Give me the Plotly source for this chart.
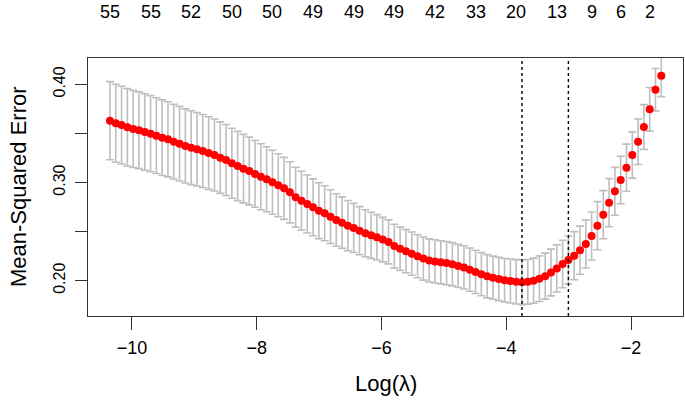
import plotly.graph_objects as go

log_lambda = [-10.353, -10.260, -10.167, -10.074, -9.981, -9.888, -9.795, -9.702, -9.609, -9.516,
              -9.423, -9.330, -9.237, -9.144, -9.051, -8.958, -8.865, -8.771, -8.678, -8.585,
              -8.492, -8.399, -8.306, -8.213, -8.120, -8.027, -7.934, -7.841, -7.748, -7.655,
              -7.562, -7.469, -7.376, -7.283, -7.190, -7.097, -7.004, -6.911, -6.818, -6.725,
              -6.632, -6.539, -6.446, -6.353, -6.260, -6.167, -6.074, -5.981, -5.888, -5.795,
              -5.702, -5.608, -5.515, -5.422, -5.329, -5.236, -5.143, -5.050, -4.957, -4.864,
              -4.771, -4.678, -4.585, -4.492, -4.399, -4.306, -4.213, -4.120, -4.027, -3.934,
              -3.841, -3.748, -3.655, -3.562, -3.469, -3.376, -3.283, -3.190, -3.097, -3.004,
              -2.911, -2.818, -2.725, -2.632, -2.539, -2.445, -2.352, -2.259, -2.166, -2.073,
              -1.980, -1.887, -1.794, -1.701, -1.608, -1.515]

mse = [0.3629, 0.3603, 0.3585, 0.3562, 0.3545, 0.3532, 0.3514, 0.3497, 0.3477, 0.3456,
       0.3440, 0.3416, 0.3395, 0.3372, 0.3354, 0.3338, 0.3321, 0.3300, 0.3280, 0.3253,
       0.3229, 0.3196, 0.3168, 0.3141, 0.3117, 0.3087, 0.3059, 0.3033, 0.3002, 0.2972,
       0.2940, 0.2900, 0.2850, 0.2815, 0.2781, 0.2747, 0.2713, 0.2686, 0.2652, 0.2618,
       0.2591, 0.2560, 0.2537, 0.2509, 0.2483, 0.2462, 0.2442, 0.2418, 0.2395, 0.2352,
       0.2325, 0.2300, 0.2275, 0.2249, 0.2225, 0.2206, 0.2196, 0.2187, 0.2179, 0.2167,
       0.2150, 0.2135, 0.2112, 0.2089, 0.2066, 0.2045, 0.2030, 0.2017, 0.2004, 0.1996,
       0.1988, 0.1984, 0.1988, 0.2000, 0.2020, 0.2046, 0.2083, 0.2124, 0.2170, 0.2211,
       0.2254, 0.2310, 0.2374, 0.2455, 0.2560, 0.2672, 0.2794, 0.2910, 0.3025, 0.3151,
       0.3280, 0.3415, 0.3565, 0.3745, 0.3945, 0.4088]

mse_se = [0.0398, 0.0397, 0.0396, 0.0394, 0.0393, 0.0391, 0.0390, 0.0388, 0.0386, 0.0385,
          0.0383, 0.0381, 0.0380, 0.0378, 0.0376, 0.0374, 0.0372, 0.0370, 0.0367, 0.0364,
          0.0361, 0.0357, 0.0353, 0.0349, 0.0345, 0.0340, 0.0336, 0.0331, 0.0326, 0.0321,
          0.0316, 0.0311, 0.0305, 0.0300, 0.0295, 0.0290, 0.0285, 0.0280, 0.0274, 0.0268,
          0.0262, 0.0256, 0.0250, 0.0245, 0.0240, 0.0235, 0.0231, 0.0227, 0.0224, 0.0222,
          0.0220, 0.0220, 0.0220, 0.0220, 0.0220, 0.0220, 0.0220, 0.0220, 0.0220, 0.0220,
          0.0220, 0.0220, 0.0220, 0.0220, 0.0220, 0.0220, 0.0220, 0.0220, 0.0222, 0.0224,
          0.0226, 0.0228, 0.0228, 0.0230, 0.0232, 0.0234, 0.0238, 0.0240, 0.0242, 0.0244,
          0.0245, 0.0245, 0.0245, 0.0245, 0.0245, 0.0245, 0.0245, 0.0244, 0.0242, 0.0240,
          0.0236, 0.0232, 0.0228, 0.0222, 0.0216, 0.0213]

lambda_min = -3.748
lambda_1se = -3.004

nz_x = [-10.353, -9.702, -9.051, -8.399, -7.748, -7.097, -6.446, -5.795, -5.143, -4.492,
        -3.841, -3.190, -2.632, -2.166, -1.701]
nz_labels = ["55", "55", "52", "50", "50", "49", "49", "49", "42", "33", "20", "13", "9", "6", "2"]

x_ticks = [-10, -8, -6, -4, -2]
y_ticks = [0.20, 0.25, 0.30, 0.35, 0.40]
y_tick_text = ["0.20", "", "0.30", "", "0.40"]

FONT = "Liberation Sans, Arial, sans-serif"

fig = go.Figure()
fig.add_trace(go.Scatter(
    x=log_lambda, y=mse, mode="markers",
    marker=dict(color="#FF0000", size=8, line=dict(width=0)),
    error_y=dict(type="data", array=mse_se, visible=True,
                 color="#BEBEBE", thickness=1.6, width=4),
    showlegend=False, hoverinfo="x+y",
))

for xv in [lambda_min, lambda_1se]:
    fig.add_shape(type="line", x0=xv, x1=xv, y0=0, y1=1, xref="x", yref="paper",
                  line=dict(color="black", width=1.4, dash="dot"))

for xv, lab in zip(nz_x, nz_labels):
    fig.add_annotation(x=xv, y=1, xref="x", yref="paper", text=lab, showarrow=False,
                       yanchor="middle", yshift=46, font=dict(family=FONT, size=18, color="black"))

# axis titles
fig.add_annotation(x=0.5, y=0, xref="paper", yref="paper", text="Log(λ)", showarrow=False,
                   yanchor="middle", yshift=-67, font=dict(family=FONT, size=22, color="black"))
fig.add_annotation(x=0, y=0.5, xref="paper", yref="paper", text="Mean-Squared Error",
                   showarrow=False, textangle=-90, xanchor="center", xshift=-70,
                   font=dict(family=FONT, size=22, color="black"))

fig.update_layout(
    width=685, height=406,
    margin=dict(l=88, r=2, t=58, b=90),
    paper_bgcolor="white", plot_bgcolor="white",
    font=dict(family=FONT, color="black"),
    xaxis=dict(range=[-10.705, -1.167], tickvals=x_ticks, ticks="outside", ticklen=13,
               tickwidth=1.3, tickcolor="#333333", showgrid=False, zeroline=False,
               showline=True, linecolor="#333333", linewidth=1.4, mirror=True,
               tickfont=dict(size=18), ticklabelstandoff=2, automargin=False),
    yaxis=dict(range=[0.164, 0.4268], tickvals=y_ticks, ticktext=y_tick_text, ticks="outside",
               ticklen=12, tickwidth=1.3, tickcolor="#333333", showgrid=False, zeroline=False,
               showline=True, linecolor="#333333", linewidth=1.4, mirror=True,
               tickangle=-90, tickfont=dict(size=16), ticklabelstandoff=3, automargin=False),
)

fig.write_html("out.html", config={"displayModeBar": False},
               post_script="document.body.style.margin='0';document.body.style.overflow='hidden';")
